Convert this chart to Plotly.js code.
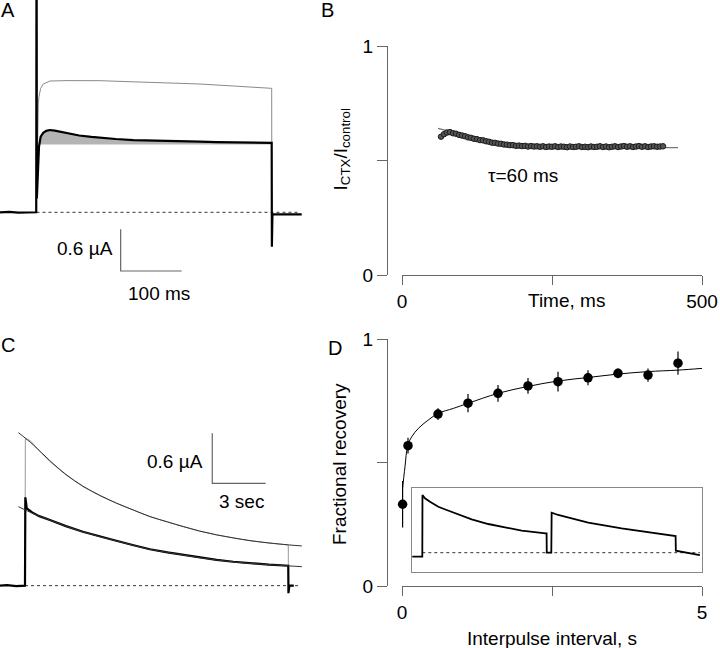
<!DOCTYPE html>
<html>
<head>
<meta charset="utf-8">
<script src="https://cdn.plot.ly/plotly-3.0.1.min.js"></script>
<style>html,body{margin:0;padding:0;background:#fff;}#chart{width:720px;height:648px;}</style>
</head>
<body>
<div id="chart"></div>
<script>
// ---------- Panel A : currents (time in ms, current in µA) ----------
const aBlackT = [-59.8, -45, -30, -15, -0.4, 0, 0.3, 0.6, 2.0, 4.1, 6.9, 11.1, 16, 22, 30, 40, 50, 70, 90, 104, 130, 159, 185, 213, 240, 268, 295, 323, 355, 384, 385.6, 385.9, 386.8, 400, 420, 434.8];
const aBlackI = [0.0, 0.006, -0.006, 0.0, 0.0, 3.6, 3.6, 0.2, 0.656, 0.944, 1.088, 1.145, 1.172, 1.184, 1.175, 1.157, 1.137, 1.105, 1.085, 1.073, 1.055, 1.040, 1.032, 1.026, 1.021, 1.016, 1.011, 1.007, 1.003, 1.000, 1.0, -0.495, -0.03, -0.03, -0.028, -0.03];
const aGrayT = [1.2, 2.0, 3.0, 4.1, 6.9, 11.1, 22, 50, 104, 150, 213, 268, 323, 385.6, 385.7];
const aGrayI = [0.6, 1.376, 1.56, 1.664, 1.784, 1.846, 1.889, 1.895, 1.894, 1.880, 1.865, 1.846, 1.817, 1.784, 0.99];
const aSteadyLevel = 0.975;
const aPulseEnd = 385.6;
const aScaleT = 100;   // ms
const aScaleI = 0.6;   // µA

// ---------- Panel B : I_CTX / I_control vs time ----------
const bTime = [65,70,75,80,85,90,95,100,105,110,115,120,125,130,135,140,145,150,155,160,165,170,175,180,185,190,195,200,205,210,215,220,225,230,235,240,245,250,255,260,265,270,275,280,285,290,295,300,305,310,315,320,325,330,335,340,345,350,355,360,365,370,375,380,385,390,395,400,405,410,415,420,425,430,435];
const bRatio = [0.604,0.615,0.622,0.624,0.619,0.617,0.612,0.609,0.606,0.601,0.599,0.595,0.593,0.589,0.588,0.584,0.582,0.578,0.577,0.574,0.573,0.570,0.569,0.567,0.567,0.564,0.565,0.563,0.564,0.561,0.563,0.561,0.562,0.560,0.562,0.559,0.561,0.560,0.562,0.559,0.561,0.560,0.558,0.561,0.559,0.560,0.562,0.559,0.560,0.558,0.561,0.559,0.560,0.562,0.559,0.561,0.558,0.560,0.562,0.559,0.561,0.563,0.560,0.562,0.559,0.561,0.563,0.560,0.562,0.559,0.561,0.562,0.560,0.561,0.562];
const bFitT = [60, 80, 100, 120, 140, 160, 180, 200, 230, 270, 330, 400, 460];
const bFitR = [0.640, 0.626, 0.611, 0.597, 0.585, 0.576, 0.569, 0.565, 0.561, 0.558, 0.557, 0.556, 0.556];
const bXTicks = [0, 500];
const bXTickText = ['0', '500'];
const bXMinorTicks = [250];
const bYTicks = [0, 1];
const bYTickText = ['0', '1'];
const bYMinorTicks = [0.5];

// ---------- Panel C : long pulse currents (time in s, current in µA) ----------
const cBlackT = [-1.404, -1.0, -0.5, -0.05, 0, 0.02, 0.06, 0.1, 0.4, 0.8, 1.4, 2.3, 3.25, 4.2, 5.13, 6.1, 7.02, 8.0, 8.89, 9.8, 10.77, 11.7, 12.64, 13.7, 14.79, 14.8, 14.85, 15.1];
const cBlackI = [0.0, 0.006, -0.006, 0.0, 0.0, 1.061, 0.96, 0.929, 0.88, 0.835, 0.789, 0.715, 0.648, 0.59, 0.540, 0.485, 0.437, 0.40, 0.369, 0.338, 0.309, 0.287, 0.269, 0.253, 0.240, -0.09, 0.0, 0.0];
const cGrayT = [0, 0.02, 0.3, 0.8, 1.4, 2.3, 3.25, 4.2, 5.13, 6.1, 7.02, 8.0, 8.89, 9.8, 10.77, 11.7, 12.64, 13.7, 14.79, 14.8];
const cGrayI = [0, 1.77, 1.74, 1.62, 1.49, 1.33, 1.19, 1.08, 0.99, 0.905, 0.828, 0.765, 0.708, 0.655, 0.609, 0.572, 0.540, 0.512, 0.489, 0.0];
const cFitUT = [-0.37, 0.47, 1.4, 2.3, 3.25, 4.2, 5.13, 6.1, 7.02, 8.0, 8.89, 9.8, 10.77, 11.7, 12.64, 13.7, 14.79, 15.55];
const cFitUI = [1.837, 1.69, 1.50, 1.335, 1.195, 1.085, 0.992, 0.907, 0.830, 0.766, 0.709, 0.656, 0.610, 0.573, 0.541, 0.513, 0.490, 0.477];
const cFitLT = [-0.37, 0.5, 1.4, 2.3, 3.25, 4.2, 5.13, 6.1, 7.02, 8.0, 8.89, 9.8, 10.77, 11.7, 12.64, 13.7, 14.79, 15.55];
const cFitLI = [0.948, 0.862, 0.787, 0.713, 0.646, 0.588, 0.538, 0.484, 0.436, 0.399, 0.368, 0.337, 0.308, 0.286, 0.268, 0.252, 0.238, 0.228];
const cScaleT = 3;    // s
const cScaleI = 0.6;  // µA

// ---------- Panel D : fractional recovery ----------
const dInterval = [0.01, 0.1, 0.6, 1.1, 1.6, 2.1, 2.6, 3.1, 3.6, 4.1, 4.6];
const dRecovery = [0.331, 0.568, 0.696, 0.740, 0.780, 0.810, 0.827, 0.843, 0.861, 0.854, 0.902];
const dError = [0.094, 0.032, 0.024, 0.037, 0.034, 0.032, 0.040, 0.030, 0.020, 0.027, 0.047];
const dFitX = [0.0, 0.05, 0.095, 0.162, 0.272, 0.438, 0.605, 0.855, 1.105, 1.6, 2.1, 2.6, 3.1, 3.6, 4.1, 4.6, 5.0];
const dFitY = [0.375, 0.483, 0.568, 0.604, 0.638, 0.672, 0.699, 0.719, 0.740, 0.780, 0.808, 0.830, 0.844, 0.858, 0.868, 0.874, 0.881];
const dXTicks = [0, 5];
const dXTickText = ['0', '5'];
const dXMinorTicks = [2.5];
const dYTicks = [0, 1];
const dYTickText = ['0', '1'];
const dYMinorTicks = [0.5];
// inset (two-pulse protocol trace, arbitrary units)
const insetT = [0.07, 1.2, 1.28, 1.3, 1.60, 2.21, 3.21, 4.22, 5.22, 7.24, 9.24, 11.25, 13.27, 16.16, 16.28, 16.30, 16.85, 16.89, 17.08, 17.68, 18.49, 21.3, 25.33, 29.35, 31.76, 31.85, 31.88, 33.37, 34.78];
const insetI = [1.80, 1.80, 1.80, 9.20, 8.80, 8.39, 7.79, 7.40, 7.00, 6.28, 5.72, 5.32, 4.92, 4.60, 4.60, 2.28, 2.28, 7.07, 7.00, 6.80, 6.59, 5.88, 5.20, 4.60, 4.28, 4.28, 2.52, 2.21, 2.00];
const insetBase = 2.28;

// ---------- helpers ----------
const W = 720, H = 648;
const px = x => x / W;
const py = y => 1 - y / H;
const FONT = 'Liberation Sans, Arial, Helvetica, sans-serif';
const FS = 19;

// gray fill polygon of panel A from the black trace
const fillT = [5], fillI = [aSteadyLevel];
aBlackT.forEach((t, i) => { if (t >= 5 && t <= aPulseEnd && aBlackI[i] >= aSteadyLevel) { fillT.push(t); fillI.push(aBlackI[i]); } });
fillT.push(aPulseEnd); fillI.push(aSteadyLevel);

// scale bar anchors
const aBar0 = [138, -0.845];
const cBar0 = [10.52, 1.229];

const traces = [
  // Panel A
  {x: fillT, y: fillI, xaxis: 'x', yaxis: 'y', mode: 'lines', fill: 'toself', fillcolor: '#b4b4b4', line: {width: 0}, hoverinfo: 'skip'},
  {x: [0, 431], y: [0, 0], xaxis: 'x', yaxis: 'y', mode: 'lines', line: {color: '#333', width: 1, dash: 'dot'}},
  {x: aGrayT, y: aGrayI, xaxis: 'x', yaxis: 'y', mode: 'lines', line: {color: '#8a8a8a', width: 1}},
  {x: aBlackT, y: aBlackI, xaxis: 'x', yaxis: 'y', mode: 'lines', line: {color: '#000', width: 2.2}},
  {x: [aBar0[0], aBar0[0], aBar0[0] + aScaleT], y: [aBar0[1] + aScaleI, aBar0[1], aBar0[1]], xaxis: 'x', yaxis: 'y', mode: 'lines', line: {color: '#666', width: 1.2}},
  // Panel B
  {x: bFitT, y: bFitR, xaxis: 'x2', yaxis: 'y2', mode: 'lines', line: {color: '#777', width: 1.2, shape: 'spline'}},
  {x: bTime, y: bRatio, xaxis: 'x2', yaxis: 'y2', mode: 'markers', marker: {symbol: 'circle', size: 5.5, color: '#555', line: {width: 1, color: '#1e1e1e'}}},
  // Panel D
  {x: dFitX, y: dFitY, xaxis: 'x3', yaxis: 'y3', mode: 'lines', line: {color: '#000', width: 1, shape: 'spline'}},
  {x: dInterval, y: dRecovery, xaxis: 'x3', yaxis: 'y3', mode: 'markers', cliponaxis: false, marker: {size: 9.5, color: '#000'},
   error_y: {type: 'data', array: dError, visible: true, thickness: 1.2, width: 0, color: '#000'}},
  // Inset
  {x: [insetT[2], insetT[insetT.length - 1]], y: [insetBase, insetBase], xaxis: 'x4', yaxis: 'y4', mode: 'lines', line: {color: '#333', width: 1, dash: 'dot'}},
  {x: insetT, y: insetI, xaxis: 'x4', yaxis: 'y4', mode: 'lines', line: {color: '#000', width: 1.8}},
  // Panel C
  {x: [0, 15.45], y: [0, 0], xaxis: 'x5', yaxis: 'y5', mode: 'lines', line: {color: '#333', width: 1, dash: 'dot'}},
  {x: cGrayT, y: cGrayI, xaxis: 'x5', yaxis: 'y5', mode: 'lines', line: {color: '#999', width: 1}},
  {x: cFitUT, y: cFitUI, xaxis: 'x5', yaxis: 'y5', mode: 'lines', line: {color: '#333', width: 1, shape: 'spline'}},
  {x: cBlackT, y: cBlackI, xaxis: 'x5', yaxis: 'y5', mode: 'lines', line: {color: '#000', width: 2.2}},
  {x: cFitLT, y: cFitLI, xaxis: 'x5', yaxis: 'y5', mode: 'lines', line: {color: '#333', width: 1, shape: 'spline'}},
  {x: [cBar0[0], cBar0[0], cBar0[0] + cScaleT], y: [cBar0[1] + cScaleI, cBar0[1], cBar0[1]], xaxis: 'x5', yaxis: 'y5', mode: 'lines', line: {color: '#666', width: 1.2}}
];

const hidden = {visible: false, fixedrange: true, showgrid: false, zeroline: false};
const axisStyle = {showline: true, linecolor: '#666', linewidth: 1, ticks: 'outside', tickcolor: '#666', tickwidth: 1,
  showgrid: false, zeroline: false, tickfont: {size: FS, color: '#000', family: FONT}, tickmode: 'array', fixedrange: true};
const minor = (vals, len) => ({tickmode: 'array', tickvals: vals, ticks: 'outside', ticklen: len, tickcolor: '#666', tickwidth: 1, showgrid: false});

const ann = (text, x, y, opts) => Object.assign({text: text, x: px(x), y: py(y), xref: 'paper', yref: 'paper', showarrow: false,
  xanchor: 'center', yanchor: 'middle', font: {size: FS, color: '#000', family: FONT}}, opts || {});
const panelFont = {size: 20, color: '#000', family: FONT};

const layout = {
  width: W, height: H,
  margin: {l: 0, r: 0, t: 0, b: 0},
  paper_bgcolor: '#fff', plot_bgcolor: 'rgba(0,0,0,0)',
  showlegend: false,
  font: {family: FONT, size: FS, color: '#000'},
  xaxis: Object.assign({}, hidden, {domain: [0, px(305)], range: [-59.8, 440.2], anchor: 'y'}),
  yaxis: Object.assign({}, hidden, {domain: [py(300), 1], range: [-1.262, 3.055], anchor: 'x'}),
  xaxis2: Object.assign({}, axisStyle, {domain: [px(402), px(702)], range: [0, 500], anchor: 'y2', ticklen: 9, tickvals: bXTicks, ticktext: bXTickText, minor: minor(bXMinorTicks, 9)}),
  yaxis2: Object.assign({}, axisStyle, {domain: [py(275), py(46)], range: [0, 1], anchor: 'free', position: px(387), ticklen: 10, tickvals: bYTicks, ticktext: bYTickText, minor: minor(bYMinorTicks, 10)}),
  xaxis3: Object.assign({}, axisStyle, {domain: [px(402), px(702)], range: [0, 5], anchor: 'y3', ticklen: 9, tickvals: dXTicks, ticktext: dXTickText, minor: minor(dXMinorTicks, 9)}),
  yaxis3: Object.assign({}, axisStyle, {domain: [py(586), py(339)], range: [0, 1], anchor: 'free', position: px(387), ticklen: 10, tickvals: dYTicks, ticktext: dYTickText, minor: minor(dYMinorTicks, 10)}),
  xaxis4: {domain: [px(411.7), px(701.7)], range: [0, 35], anchor: 'y4', showline: true, mirror: true, linecolor: '#888', linewidth: 1, ticks: '', showticklabels: false, showgrid: false, zeroline: false, fixedrange: true},
  yaxis4: {domain: [py(571.7), py(488.3)], range: [0, 10], anchor: 'x4', showline: true, mirror: true, linecolor: '#888', linewidth: 1, ticks: '', showticklabels: false, showgrid: false, zeroline: false, fixedrange: true},
  xaxis5: Object.assign({}, hidden, {domain: [0, px(305)], range: [-1.404, 15.73], anchor: 'y5'}),
  yaxis5: Object.assign({}, hidden, {domain: [py(600), py(400)], range: [-0.172, 2.229], anchor: 'x5'}),
  annotations: [
    ann('A', 8.3, 10, {font: panelFont}),
    ann('B', 327.5, 10, {font: panelFont}),
    ann('C', 8.3, 345, {font: panelFont}),
    ann('D', 335, 347.5, {font: panelFont}),
    ann('0.6 µA', 115, 248.3, {xanchor: 'right'}),
    ann('100 ms', 159.3, 293.3),
    ann('τ=60 ms', 523.3, 175),
    ann('Time, ms', 566, 300),
    ann('I<sub>CTX</sub>/I<sub>control</sub>', 341.5, 150, {textangle: -90}),
    ann('0.6 µA', 205, 461.7, {xanchor: 'right'}),
    ann('3 sec', 241.7, 501.7),
    ann('Fractional recovery', 339, 464, {textangle: -90}),
    ann('Interpulse interval, s', 552, 638)
  ]
};

Plotly.newPlot('chart', traces, layout, {displayModeBar: false, staticPlot: true});
</script>
</body>
</html>
